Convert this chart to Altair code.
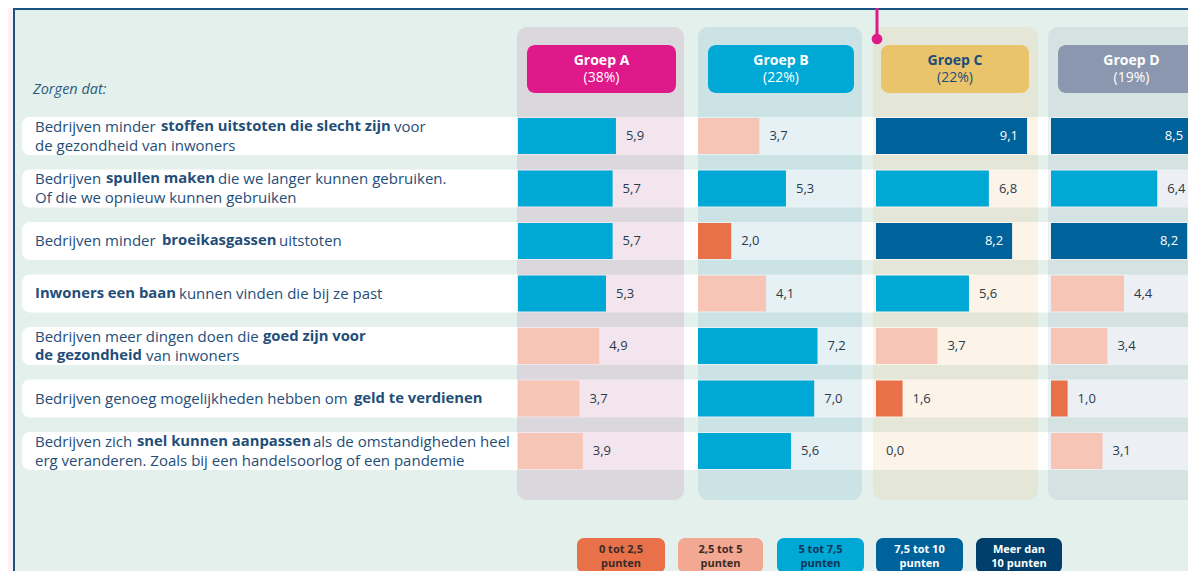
import altair as alt
import pandas as pd

# ---------------- data ----------------
groups = ["Groep A", "Groep B", "Groep C", "Groep D"]
group_shares = ["(38%)", "(22%)", "(22%)", "(19%)"]
scores_a = [5.9, 5.7, 5.7, 5.3, 4.9, 3.7, 3.9]
scores_b = [3.7, 5.3, 2.0, 4.1, 7.2, 7.0, 5.6]
scores_c = [9.1, 6.8, 8.2, 5.6, 3.7, 1.6, 0.0]
scores_d = [8.5, 6.4, 8.2, 4.4, 3.4, 1.0, 3.1]
intro_label = "Zorgen dat:"
# each statement: lines, each line: (text, bold)
statements = [
    [[("Bedrijven minder", False), ("stoffen uitstoten die slecht zijn", True), ("voor", False)],
     [("de gezondheid van inwoners", False)]],
    [[("Bedrijven", False), ("spullen maken", True), ("die we langer kunnen gebruiken.", False)],
     [("Of die we opnieuw kunnen gebruiken", False)]],
    [[("Bedrijven minder", False), ("broeikasgassen", True), ("uitstoten", False)]],
    [[("Inwoners een baan", True), ("kunnen vinden die bij ze past", False)]],
    [[("Bedrijven meer dingen doen die", False), ("goed zijn voor", True)],
     [("de gezondheid", True), ("van inwoners", False)]],
    [[("Bedrijven genoeg mogelijkheden hebben om", False), ("geld te verdienen", True)]],
    [[("Bedrijven zich", False), ("snel kunnen aanpassen", True), ("als de omstandigheden heel", False)],
     [("erg veranderen. Zoals bij een handelsoorlog of een pandemie", False)]],
]
class_labels = [["0 tot 2,5", "punten"], ["2,5 tot 5", "punten"], ["5 tot 7,5", "punten"],
                ["7,5 tot 10", "punten"], ["Meer dan", "10 punten"]]
class_edges = [2.5, 5.0, 7.5, 10.0]
score_max = 10

# ---------------- layout & style ----------------
FONT = "Open Sans"
M = 8
X_END, Y_END = 1188, 571          # page coordinates of the drawable area's far edges
PX = alt.Scale(domain=[M, X_END], range=[0, X_END - M], zero=False, nice=False)
PY = alt.Scale(domain=[M, Y_END], range=[0, Y_END - M], zero=False, nice=False)

ROW_TOP0, ROW_PITCH, ROW_H = 117, 52.5, 38
LINE_GAP = 9.5
LABEL_SIZE = 15
BOLD_SIZE = 14.8
seg_x = [[[35, 161, 394], [35]], [[35, 106, 218], [35]], [[35, 162, 279]], [[35, 179]],
         [[35, 263], [35, 146]], [[35, 354]], [[35, 137, 313], [35]]]
panel_x = [(517, 684), (698, 862), (873, 1038), (1048, 1214)]
panel_y = (27, 500)
panel_fill = ["#9b2671", "#0573a5", "#ebb666", "#8094af"]
panel_op = [0.12, 0.1, 0.15, 0.15]
head_x = [(527, 676), (708, 854), (881, 1029), (1058, 1205)]
head_y = (45, 93)
head_fill = ["#e0198a", "#00a8d6", "#e9c46a", "#8b97ae"]
head_text = ["white", "white", "#1c4d7a", "white"]
bar_x0 = [518, 698, 876, 1051]
BAR_W = 166
class_colors = ["#e8714a", "#f7c5b6", "#00a8d6", "#00629b", "#003f6b"]
legend_fill = ["#e8714a", "#f2a892", "#00a8d6", "#00629b", "#003f6b"]
legend_text = ["#3b2b25", "#3b2b25", "#0f3557", "white", "white"]
legend_x = [(577, 665), (678, 763), (777, 864), (876, 963), (976, 1062)]
legend_y = (538, 573)
TEXT_BLUE = "#1f4e79"
MINT = "#e3f0ec"
PINK_BG = "#fdf1f6"
FRAME = "#1b5183"
MAGENTA = "#df1a8b"


def rect_layer(df, **kw):
    return alt.Chart(df).mark_rect(**kw).encode(
        x=alt.X("x1:Q", scale=PX, axis=None), x2="x2:Q",
        y=alt.Y("y1:Q", scale=PY, axis=None), y2="y2:Q",
        color=alt.Color("fill:N", scale=None),
        opacity=alt.Opacity("op:Q", scale=None))


def text_layer(df, **kw):
    return alt.Chart(df).mark_text(**kw).encode(
        x=alt.X("x:Q", scale=PX, axis=None), y=alt.Y("y:Q", scale=PY, axis=None),
        text="t:N", color=alt.Color("c:N", scale=None))


def row_top(i):
    return ROW_TOP0 + i * ROW_PITCH


layers = []

# frame
frame = pd.DataFrame([dict(x1=14, x2=1240, y1=9, y2=620, fill=MINT, op=1)])
layers.append(rect_layer(frame, stroke=FRAME, strokeWidth=2))

# white row strips
strips = pd.DataFrame([dict(x1=22, x2=1240, y1=row_top(i), y2=row_top(i) + ROW_H, fill="white", op=1)
                       for i in range(len(statements))])
layers.append(rect_layer(strips, cornerRadius=8))

# group panels
panels = pd.DataFrame([dict(x1=panel_x[g][0], x2=panel_x[g][1], y1=panel_y[0], y2=panel_y[1],
                            fill=panel_fill[g], op=panel_op[g]) for g in range(4)])
layers.append(rect_layer(panels, cornerRadius=10))

# header boxes
heads = pd.DataFrame([dict(x1=head_x[g][0], x2=head_x[g][1], y1=head_y[0], y2=head_y[1],
                           fill=head_fill[g], op=1) for g in range(4)])
layers.append(rect_layer(heads, cornerRadius=8))
htitle = pd.DataFrame([dict(x=(head_x[g][0] + head_x[g][1]) / 2, y=60.5, t=groups[g], c=head_text[g])
                       for g in range(4)])
hshare = pd.DataFrame([dict(x=(head_x[g][0] + head_x[g][1]) / 2, y=77.5, t=group_shares[g], c=head_text[g])
                       for g in range(4)])
layers.append(text_layer(htitle, font=FONT, fontSize=14, fontWeight="bold", align="center", baseline="middle"))
layers.append(text_layer(hshare, font=FONT, fontSize=14, align="center", baseline="middle"))

# bars per group
all_scores = [scores_a, scores_b, scores_c, scores_d]


def score_class(v):
    for k, e in enumerate(class_edges):
        if v < e:
            return k
    return len(class_edges)


for g in range(4):
    rows = []
    for i, v in enumerate(all_scores[g]):
        rows.append(dict(value=v, zero=0, top=row_top(i) + 1, bot=row_top(i) + ROW_H - 1,
                         mid=row_top(i) + ROW_H / 2, cls=str(score_class(v)),
                         label=f"{v:.1f}".replace(".", ",")))
    df = pd.DataFrame(rows)
    xs = alt.Scale(domain=[0, score_max], range=[bar_x0[g] - M, bar_x0[g] - M + BAR_W])
    bars = alt.Chart(df).mark_rect().encode(
        x=alt.X("value:Q", scale=xs, axis=None), x2="zero:Q",
        y=alt.Y("top:Q", scale=PY, axis=None), y2="bot:Q",
        color=alt.Color("cls:N", scale=alt.Scale(domain=[str(k) for k in range(5)], range=class_colors),
                        legend=None))
    out_lab = alt.Chart(df).transform_filter(f"datum.value < {class_edges[2]}").mark_text(
        font=FONT, fontSize=13, align="left", baseline="middle", dx=10, color="#2b3a4a").encode(
        x=alt.X("value:Q", scale=xs, axis=None), y=alt.Y("mid:Q", scale=PY, axis=None), text="label:N")
    in_lab = alt.Chart(df).transform_filter(f"datum.value >= {class_edges[2]}").mark_text(
        font=FONT, fontSize=13, align="right", baseline="middle", dx=-9, color="white").encode(
        x=alt.X("value:Q", scale=xs, axis=None), y=alt.Y("mid:Q", scale=PY, axis=None), text="label:N")
    layers.append(alt.layer(bars, out_lab, in_lab))

# statement texts
norm_rows, bold_rows = [], []
for i, lines in enumerate(statements):
    n = len(lines)
    mid = row_top(i) + ROW_H / 2
    for j, segs in enumerate(lines):
        y = mid + (j - (n - 1) / 2) * 2 * LINE_GAP
        for k, (t, b) in enumerate(segs):
            rec = dict(x=seg_x[i][j][k], y=y, t=t, c=TEXT_BLUE)
            (bold_rows if b else norm_rows).append(rec)
layers.append(text_layer(pd.DataFrame(norm_rows), font=FONT, fontSize=LABEL_SIZE, align="left",
                         baseline="middle"))
layers.append(text_layer(pd.DataFrame(bold_rows), font=FONT, fontSize=BOLD_SIZE, fontWeight="bold",
                         align="left", baseline="middle"))

# intro label
layers.append(text_layer(pd.DataFrame([dict(x=33, y=90, t=intro_label, c="#2c5b80")]),
                         font=FONT, fontSize=14.5, fontStyle="italic", align="left", baseline="middle"))

# legend
leg = pd.DataFrame([dict(x1=legend_x[k][0], x2=legend_x[k][1], y1=legend_y[0], y2=legend_y[1],
                         fill=legend_fill[k], op=1) for k in range(5)])
layers.append(rect_layer(leg, cornerRadius=7))
leg_t = pd.DataFrame([dict(x=(legend_x[k][0] + legend_x[k][1]) / 2, y=549.5 + 14.5 * j, t=class_labels[k][j],
                           c=legend_text[k]) for k in range(5) for j in range(2)])
layers.append(text_layer(leg_t, font=FONT, fontSize=11, fontWeight="bold", align="center", baseline="middle"))

# magenta pointer
pointer = pd.DataFrame([dict(x=877, y1=8, y2=37)])
layers.append(alt.Chart(pointer).mark_rule(color=MAGENTA, strokeWidth=3).encode(
    x=alt.X("x:Q", scale=PX, axis=None), y=alt.Y("y1:Q", scale=PY, axis=None), y2="y2:Q"))
dot = pd.DataFrame([dict(x=877, y=39)])
layers.append(alt.Chart(dot).mark_circle(color=MAGENTA, opacity=1, size=115).encode(
    x=alt.X("x:Q", scale=PX, axis=None), y=alt.Y("y:Q", scale=PY, axis=None)))

chart = alt.layer(*layers).resolve_scale(x="independent").properties(
    width=X_END - M, height=Y_END - M, autosize=alt.AutoSizeParams(type="none"), padding=0,
    background=PINK_BG).configure_view(stroke=None)

chart.save("out.html", embed_options={"renderer": "svg", "actions": False})
